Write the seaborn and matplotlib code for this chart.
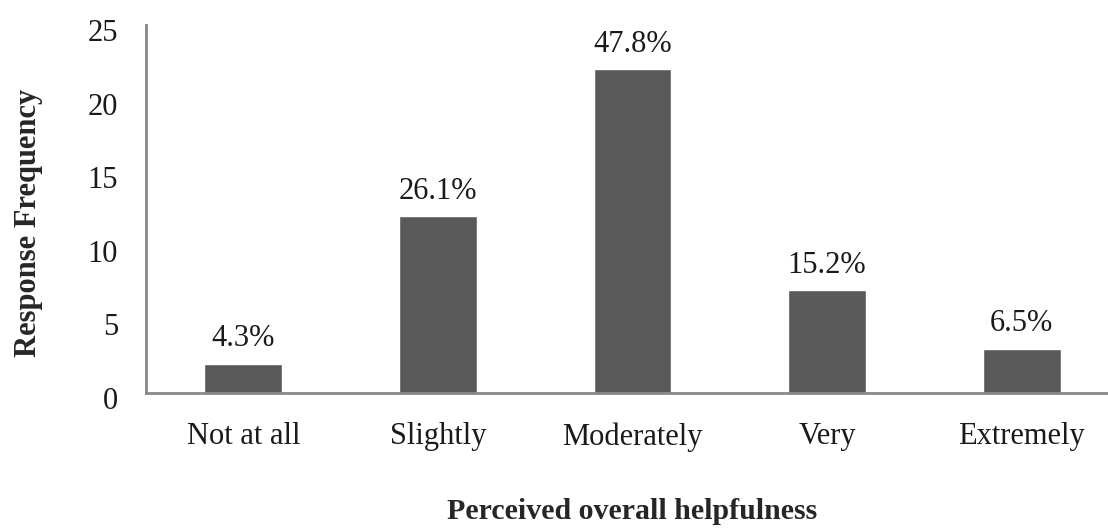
import matplotlib
matplotlib.use("Agg")
import matplotlib.pyplot as plt
from matplotlib.transforms import ScaledTranslation
import pandas as pd
import seaborn as sns

categories = ["Not at all", "Slightly", "Moderately", "Very", "Extremely"]
counts = [2, 12, 22, 7, 3]
percent_labels = ["4.3%", "26.1%", "47.8%", "15.2%", "6.5%"]

df = pd.DataFrame({"helpfulness": categories, "frequency": counts})

sns.set_style("white")
plt.rcParams["font.family"] = ["Liberation Serif", "DejaVu Serif"]

W, H = 1108, 532
fig = plt.figure(figsize=(W / 100, H / 100), dpi=100)
# axes reaches slightly past the right edge, like the original
ax = fig.add_axes([146 / W, (H - 393) / H, (1119 - 146) / W, (393 - 25) / H])

sns.barplot(data=df, x="helpfulness", y="frequency", color="#595959",
            width=0.40, saturation=1, ax=ax, errorbar=None)
ax.bar_label(ax.containers[0], labels=percent_labels, padding=7.5, fontsize=22, color="#1a1a1a")

ax.set_xlim(-0.5, 4.5)
ax.set_ylim(0, 25)
ax.set_yticks([0, 5, 10, 15, 20, 25])
ax.tick_params(axis="y", direction="in", length=7, width=1.5, color="#888888",
               labelsize=22, pad=20, labelcolor="#1a1a1a")
ax.tick_params(axis="x", length=0, labelsize=22, pad=21, labelcolor="#1a1a1a")
# y tick numbers sit a little below their ticks in the original
for lab in ax.get_yticklabels():
    lab.set_transform(lab.get_transform() + ScaledTranslation(0, -5 / 100, fig.dpi_scale_trans))

for side in ["top", "right"]:
    ax.spines[side].set_visible(False)
for side in ["left", "bottom"]:
    ax.spines[side].set_color("#888888")
    ax.spines[side].set_linewidth(2)

ax.set_xlabel("Perceived overall helpfulness", fontsize=21.5, fontweight="bold", va="center")
ax.xaxis.set_label_coords(0.5, -0.323)
ax.set_ylabel("Response Frequency", fontsize=22, fontweight="bold", va="center")
ax.yaxis.set_label_coords(-0.121, 0.462)

fig.savefig("out.png", dpi=100)
